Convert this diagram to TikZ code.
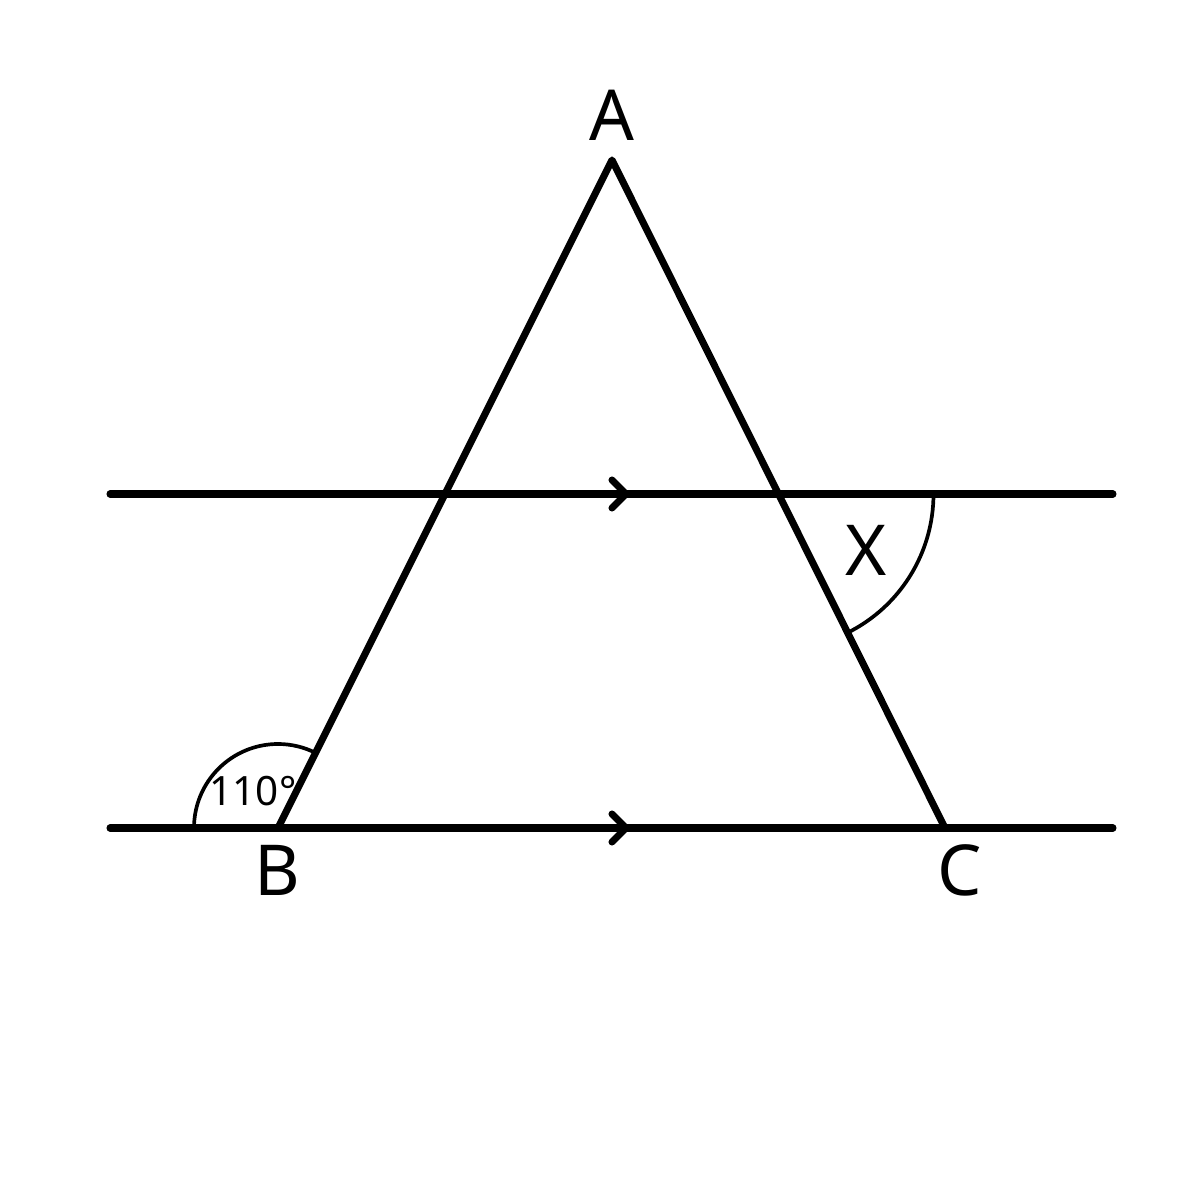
\documentclass[tikz,border=0pt]{standalone}
\usepackage{fontspec}
\setmainfont{Noto Sans}
\usetikzlibrary{calc}
\tikzset{thickline/.style={line width=2pt, line cap=round, line join=round},
         anglearc/.style={line width=1.05pt},
         vlabel/.style={font=\fontsize{20}{24}\selectfont, inner sep=0pt}}

\begin{document}
\begin{tikzpicture}
                 \useasboundingbox(0,0) rectangle (12,12);

                 \coordinate (A) at (6.12,10.40);
                 \coordinate (B) at (2.78,3.72);
                 \coordinate (C) at (9.45,3.72);
                 \coordinate (L1) at (1.10,7.06);
                 \coordinate (R1) at (11.13,7.06);
                 \coordinate (L2) at (1.10,3.72);
                 \coordinate (R2) at (11.13,3.72);
                 \coordinate (P) at ($(A)!0.5!(C)$);

                 \draw[thickline](L1)--(R1);
                 \draw[thickline](L2)--(R2);
                 \draw[thickline](B)--(A)--(C);

                 \foreach \y in {7.06,3.72}
                     \draw[thickline](6.12,\y+.14)--(6.26,\y)--(6.12,\y-.14);

                 \draw[anglearc](B)++(-.84,0) arc(180:63.4:.84);
                 \draw[anglearc](P)++(1.55,0) arc(0:-63.5:1.55);

                 \node[vlabel] (lA) at (6.12,10.85) {A};
                 \node[vlabel] (lB) at (2.77,3.30) {B};
                 \node[vlabel] (lC) at (9.60,3.30) {C};
                 \node[vlabel] (lX) at (8.66,6.50) {X};
                 \node[inner sep=0pt, font=\fontsize{11.5}{14}\selectfont] (lang) at (2.53,4.09) {110°};
             \end{tikzpicture}
\end{document}
